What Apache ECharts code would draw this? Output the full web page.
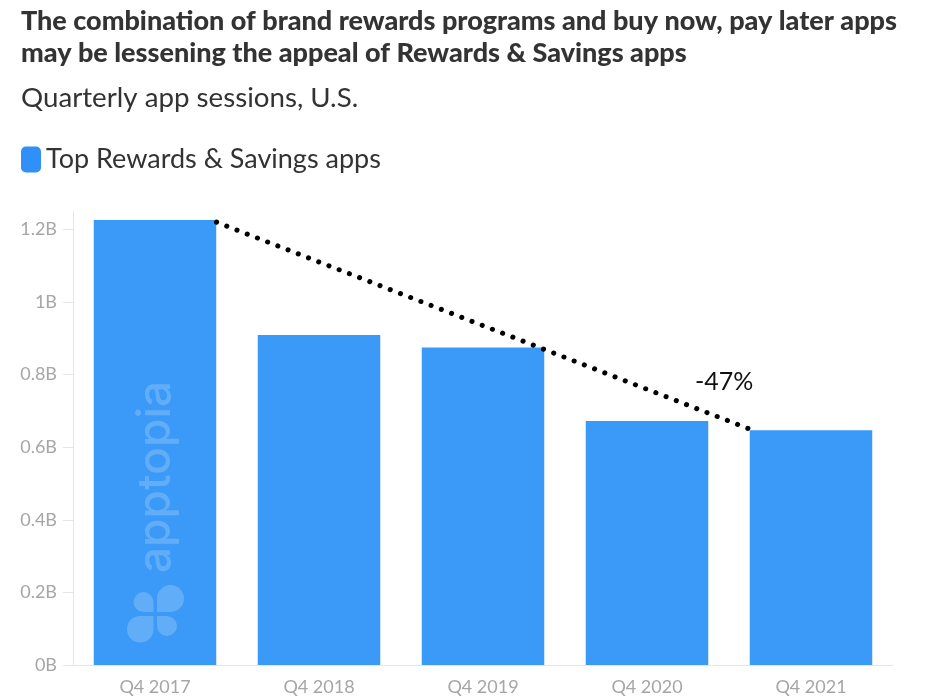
<!DOCTYPE html>
<html>
<head>
<meta charset="utf-8">
<style>
  html, body { margin: 0; padding: 0; background: #fff; }
  #chart { width: 940px; height: 699px; }
</style>
<script src="https://cdn.jsdelivr.net/npm/echarts@6/dist/echarts.min.js"></script>
</head>
<body>
<div id="chart"></div>
<script>
const categories = ['Q4 2017', 'Q4 2018', 'Q4 2019', 'Q4 2020', 'Q4 2021'];
const sessions = [1.226, 0.909, 0.875, 0.672, 0.647];
const yTicks = [0, 0.2, 0.4, 0.6, 0.8, 1, 1.2];
// dotted trend: x in category slots (0-5), from corner of first bar to corner of last
const trendX = [0.875, 4.125];
const trendY = [1.22, 0.65];

const font = 'Lato';
const markFill = 'rgba(255,255,255,0.2)';
const chart = echarts.init(document.getElementById('chart'));

chart.setOption({
	animation: false,
	backgroundColor: '#fff',
	title: [
		{
			text: 'The combination of brand rewards programs and buy now, pay later apps\nmay be lessening the appeal of Rewards & Savings apps',
			left: 21,
			top: 5,
			padding: 0,
			textStyle: { fontFamily: font, fontSize: 27, fontWeight: 900, color: '#333', lineHeight: 32 },
		},
		{
			text: 'Quarterly app sessions, U.S.',
			left: 21,
			top: 84,
			padding: 0,
			textStyle: { fontFamily: font, fontSize: 27.7, fontWeight: 'normal', color: '#333' },
		},
	],
	legend: {
		left: 21,
		top: 146,
		padding: 0,
		itemWidth: 20,
		itemHeight: 26,
		itemGap: 6,
		selectedMode: false,
		data: [{ name: 'Top Rewards & Savings apps', icon: 'roundRect', itemStyle: { color: '#2e90f8' } }],
		textStyle: { fontFamily: font, fontSize: 27, color: '#333', padding: [3, 0, 0, 0] },
	},
	grid: { left: 73, right: 47, top: 211.25, bottom: 34 },
	xAxis: [
		{
			type: 'category',
			data: categories,
			axisLine: { lineStyle: { color: '#e6e6e6' } },
			axisTick: { alignWithLabel: true, length: 10, lineStyle: { color: '#e6e6e6' } },
			axisLabel: { fontFamily: font, fontSize: 18, color: '#a6a6a6', margin: 13 },
			splitLine: { show: false },
		},
		{ type: 'value', min: 0, max: 5, show: false },
	],
	yAxis: {
		type: 'value',
		min: 0,
		max: 1.25,
		axisLine: { show: true, lineStyle: { color: '#e6e6e6' } },
		axisTick: { show: true, length: 10, customValues: yTicks, lineStyle: { color: '#e6e6e6' } },
		axisLabel: {
			fontFamily: font,
			fontSize: 18,
			color: '#a6a6a6',
			margin: 16,
			customValues: yTicks,
			formatter: (v) => v + 'B',
		},
		splitLine: { show: false },
	},
	series: [
		{
			name: 'Top Rewards & Savings apps',
			type: 'bar',
			barWidth: 122.5,
			itemStyle: { color: '#3b99f7' },
			data: sessions,
		},
		{
			name: 'trend',
			type: 'line',
			xAxisIndex: 1,
			z: 5,
			symbol: 'none',
			lineStyle: { color: '#000', width: 5, type: [0.1, 10.86], cap: 'round' },
			data: trendX.map((x, i) => [x, trendY[i]]),
		},
	],
	graphic: [
		{
			type: 'text',
			left: 695,
			top: 369,
			style: { text: '-47%', fontFamily: font, fontSize: 25, fill: '#111' },
		},
		{
			type: 'text',
			z: 10,
			x: 179,
			y: 573,
			rotation: Math.PI / 2,
			style: {
				text: 'apptopia',
				fontFamily: 'Inter',
				fontSize: 46,
				fontWeight: 500,
				fill: markFill,
				align: 'left',
				verticalAlign: 'bottom',
			},
		},
		{ type: 'rect', z: 10, shape: { x: 133.5, y: 592, width: 20, height: 20, r: [10, 10, 0, 10] }, style: { fill: markFill } },
		{ type: 'rect', z: 10, shape: { x: 157, y: 585, width: 27, height: 27, r: [13.5, 13.5, 13.5, 0] }, style: { fill: markFill } },
		{ type: 'rect', z: 10, shape: { x: 127, y: 616, width: 26.5, height: 26.5, r: [13, 0, 13, 13] }, style: { fill: markFill } },
		{ type: 'rect', z: 10, shape: { x: 157, y: 616, width: 20, height: 20, r: [0, 10, 10, 10] }, style: { fill: markFill } },
	],
});
</script>
</body>
</html>
